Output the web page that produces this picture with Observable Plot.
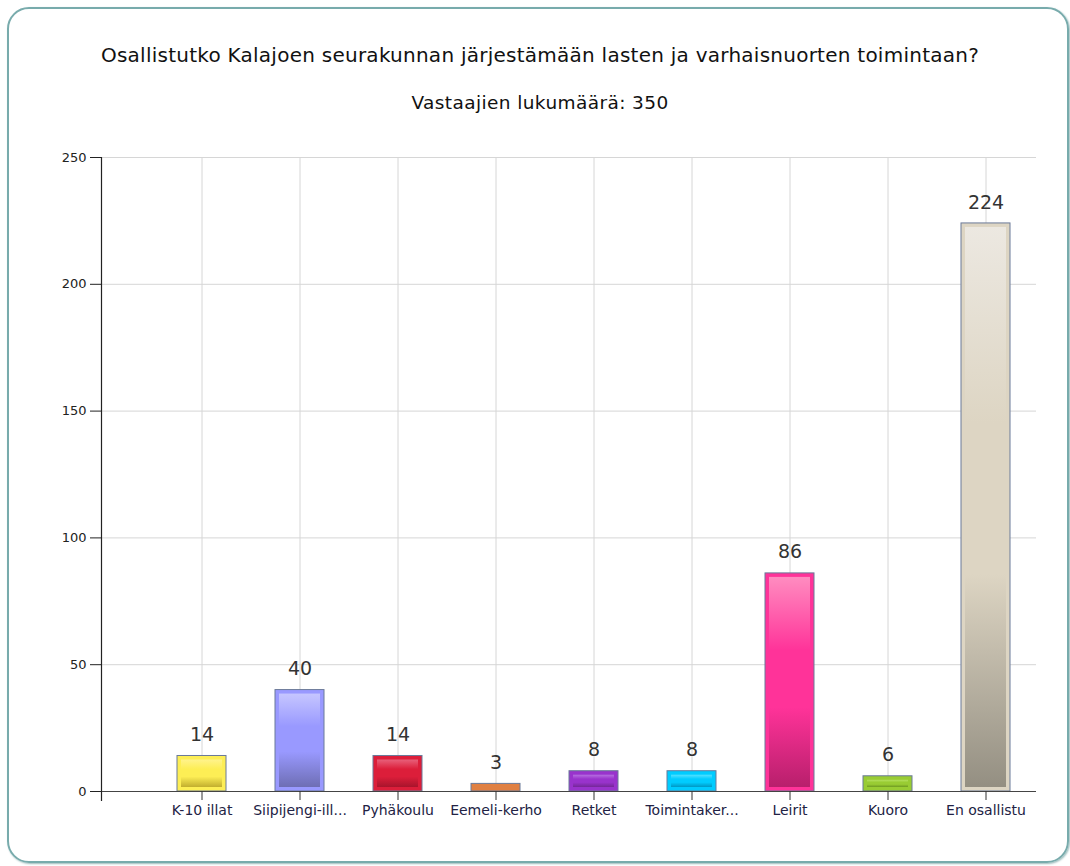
<!DOCTYPE html>
<html>
<head>
<meta charset="utf-8">
<script src="https://cdn.jsdelivr.net/npm/d3@7"></script>
<script src="https://cdn.jsdelivr.net/npm/@observablehq/plot@0.6"></script>
<style>
  body { margin: 0; background: #fff; font-family: "DejaVu Sans", Verdana, sans-serif; }
  #box { position: absolute; left: 7px; top: 7px; width: 1062px; height: 856px; box-sizing: border-box;
         border: 2px solid #78abac; border-radius: 22px; box-shadow: 1px 1px 2px #9bbcbc; }
  .ttl { position: absolute; left: 10px; width: 1060px; text-align: center; color: #111; line-height: 22px; }
  #title { top: 44px; font-size: 20px; letter-spacing: 0.25px; }
  #subtitle { top: 92px; font-size: 18.5px; letter-spacing: 0.4px; }
  #chart { position: absolute; left: 0; top: 140px; }
</style>
</head>
<body>
<div id="box"></div>
<div id="title" class="ttl">Osallistutko Kalajoen seurakunnan järjestämään lasten ja varhaisnuorten toimintaan?</div>
<div id="subtitle" class="ttl">Vastaajien lukumäärä: 350</div>
<div id="chart"></div>
<script>
const categories = ["K-10 illat", "Siipijengi-ill...", "Pyhäkoulu", "Eemeli-kerho", "Retket", "Toimintaker...", "Leirit", "Kuoro", "En osallistu"];
const counts = [14, 40, 14, 3, 8, 8, 86, 6, 224];
const yTicks = [0, 50, 100, 150, 200, 250];

const baseColors  = ["#fdee55", "#9999ff", "#dc1e3a", "#e08042", "#9933cc", "#00ccff", "#ff3399", "#99cc33", "#ddd5c3"];
const lightColors = ["#fff38c", "#c6c6ff", "#e8607a", "#f0a070", "#b56fe0", "#55e0ff", "#ff8cc0", "#b6e060", "#ece8e1"];
const darkColors  = ["#c2ae2e", "#6e6eb4", "#a8142c", "#b8642e", "#742798", "#0098c4", "#b81f6c", "#6f9a22", "#948f82"];

const data = categories.map((c, i) => ({category: c, count: counts[i], idx: i}));

const svg = Plot.plot({
  width: 1070,
  height: 700,
  marginTop: 17,
  marginBottom: 49,
  marginLeft: 101,
  marginRight: 34,
  style: {fontFamily: "DejaVu Sans, Verdana, sans-serif", background: "transparent", overflow: "visible"},
  color: {type: "identity"},
  x: {domain: categories, range: [150, 1036], paddingInner: 0.5, paddingOuter: 0.25},
  y: {domain: [0, 250]},
  marks: [
    Plot.gridY(yTicks, {stroke: "#d6d6d6", strokeOpacity: 1}),
    Plot.gridX(categories, {stroke: "#d6d6d6", strokeOpacity: 1}),
    Plot.barY(data, {x: "category", y: "count", fill: d => baseColors[d.idx], stroke: "#6b7a99", strokeWidth: 1}),
    Plot.barY(data, {x: "category", y: "count", fill: d => `url(#grad${d.idx})`, inset: 4}),
    Plot.ruleY([0], {stroke: "#444", strokeWidth: 1.2}),
    Plot.frame({anchor: "left", insetBottom: -9, stroke: "#222", strokeWidth: 1.2}),
    Plot.axisY({ticks: yTicks, tickSize: 11, tickPadding: 4, fontSize: 13, color: "#222", label: null}),
    Plot.axisX({tickSize: 9, tickPadding: 5, fontSize: 14, color: "#222244", stroke: "#333", label: null,
                style: {letterSpacing: "0.3px"}}),
    Plot.text(data, {x: "category", y: "count", text: d => String(d.count), dy: -21, lineAnchor: "middle", fontSize: 19, fill: "#333"})
  ]
});

const defs = d3.select(svg).insert("defs", ":first-child");
categories.forEach((c, i) => {
  const g = defs.append("linearGradient").attr("id", `grad${i}`).attr("x1", 0).attr("y1", 0).attr("x2", 0).attr("y2", 1);
  [[0, lightColors[i]], [0.35, baseColors[i]], [0.62, baseColors[i]], [1, darkColors[i]]].forEach(([o, col]) => {
    g.append("stop").attr("offset", o).attr("stop-color", col);
  });
});

document.getElementById("chart").appendChild(svg);
</script>
</body>
</html>
